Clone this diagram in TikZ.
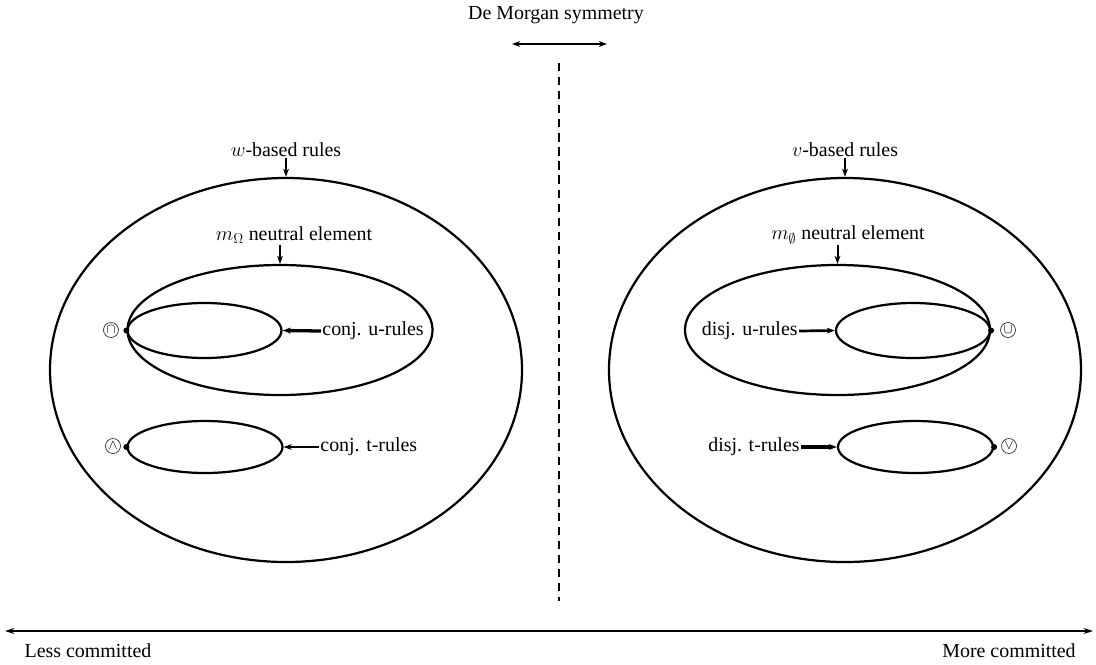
\documentclass[tikz,border=0pt]{standalone}
\usepackage{fontspec}
\setmainfont{Liberation Serif}
\usetikzlibrary{shapes.geometric,arrows.meta}
\begin{document}
\begin{tikzpicture}[x=0.03cm,y=-0.03cm,
  every node/.style={font=\fontsize{17}{20}\selectfont},
  ell/.style 2 args={ellipse,draw,line width=1.9pt,inner sep=0pt,minimum width=#1*0.03cm,minimum height=#2*0.03cm},
  lab/.style={inner sep=1pt},
  tip/.style={-{Stealth[length=7pt,width=5pt]}},
  thickarr/.style={tip,line width=2.8pt},
  thinarr/.style={tip,line width=1.7pt},
  opsym/.style={circle,draw=black!80,line width=0.6pt,inner sep=0pt,minimum size=0.45cm,font=\fontsize{12}{12}\selectfont},
  dotmark/.style={fill=black}]
\useasboundingbox (0,0) rectangle (1096,664);
% title and symmetry axis
\node[lab] (title) at (556,15) {De Morgan symmetry};
\coordinate (symL) at (512,44);
\coordinate (symR) at (607,44);
\draw[{Stealth[length=7pt,width=5pt]}-{Stealth[length=7pt,width=5pt]},line width=1.8pt] (symL) -- (symR);
\coordinate (dashT) at (559,63);
\coordinate (dashB) at (559,601);
\draw[line width=1.9pt,dash pattern=on 7pt off 5pt] (dashT) -- (dashB);
% left family
\node[ell={472}{384}] (outerL) at (286,370) {};
\node[ell={305}{130}] (innerL) at (280,330) {};
\node[ell={154}{55}] (uL) at (204.5,330.5) {};
\node[ell={155}{52}] (tL) at (205,447) {};
\node[lab] (wlab) at (286,150) {$w$-based rules};
\draw[thinarr] (wlab) -- (outerL.north);
\node[lab] (mlabL) at (294,235) {$m_\Omega$ neutral element};
\draw[thinarr] (mlabL.south -| innerL.north) -- (innerL.north);
\fill[dotmark] (uL.west) circle (3);
\fill[dotmark] (tL.west) circle (3);
\node[opsym] (capL) at (111,330) {$\cap$};
\node[opsym] (wedgeL) at (113,446) {$\wedge$};
\node[lab,anchor=west] (cuL) at (321,331) {conj. u-rules};
\draw[thickarr] (cuL.west) -- (uL.east);
\node[lab,anchor=west] (ctL) at (319,447) {conj. t-rules};
\draw[thinarr] (ctL.west) -- (tL.east);
% right family
\node[ell={472}{384}] (outerR) at (845,370) {};
\node[ell={305}{130}] (innerR) at (837.5,330) {};
\node[ell={154}{55}] (uR) at (913,330.5) {};
\node[ell={155}{52}] (tR) at (915.5,447) {};
\node[lab] (vlab) at (845,150) {$v$-based rules};
\draw[thinarr] (vlab) -- (outerR.north);
\node[lab] (mlabR) at (848,235) {$m_\emptyset$ neutral element};
\draw[thinarr] (mlabR.south -| innerR.north) -- (innerR.north);
\fill[dotmark] (uR.east) circle (3);
\fill[dotmark] (tR.east) circle (3);
\node[opsym] (cupR) at (1008,330) {$\cup$};
\node[opsym] (veeR) at (1009,446) {$\vee$};
\node[lab,anchor=east] (duR) at (799,331) {disj. u-rules};
\draw[thinarr,line width=2.3pt] (duR.east) -- (uR.west);
\node[lab,anchor=east] (dtR) at (801,447) {disj. t-rules};
\draw[thickarr] (dtR.east) -- (tR.west);
% commitment axis
\coordinate (axL) at (5,631);
\coordinate (axR) at (1093,631);
\draw[{Stealth[length=8pt,width=5pt]}-{Stealth[length=8pt,width=5pt]},line width=2.2pt] (axL) -- (axR);
\node[lab] (less) at (88,651) {Less committed};
\node[lab] (more) at (1009,651) {More committed};
\end{tikzpicture}
\end{document}
